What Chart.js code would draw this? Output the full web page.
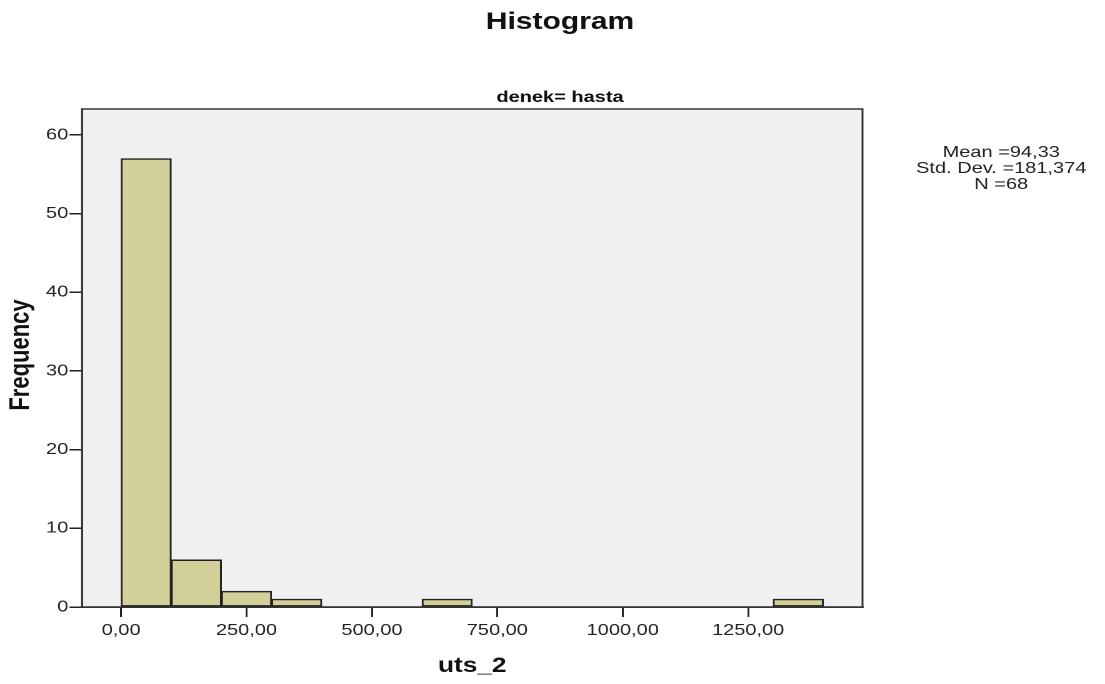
<!DOCTYPE html>
<html>
<head>
<meta charset="utf-8">
<script src="https://cdn.jsdelivr.net/npm/chart.js@4/dist/chart.umd.min.js"></script>
<style>
  html, body { margin: 0; padding: 0; background: #fff; overflow: hidden; }
  /* the SPSS picture is stretched sideways, so draw narrow and stretch */
  #wrap { position: absolute; left: 0; top: 0; width: 884px; height: 684px;
          transform: scaleX(1.25); transform-origin: 0 0; }
</style>
</head>
<body>
<div id="wrap"><canvas id="chart"></canvas></div>
<script>
// bins of uts_2 (width 100) and their frequencies
const binStarts = [0, 100, 200, 300, 400, 500, 600, 700, 800, 900, 1000, 1100, 1200, 1300];
const binWidth = 100;
const counts = [57, 6, 2, 1, 0, 0, 1, 0, 0, 0, 0, 0, 0, 1];
const xTicks = [0, 250, 500, 750, 1000, 1250];
const yTicks = [0, 10, 20, 30, 40, 50, 60];
const statLines = ["Mean =94,33", "Std. Dev. =181,374", "N =68"];

const FONT = '"Liberation Sans", Arial, sans-serif';
const INK = '#222';

const points = binStarts.map((b, i) => ({ x: b + binWidth / 2, y: counts[i] }));

const decor = {
    id: 'decor',
    beforeDraw(chart) {
        const a = chart.chartArea, ctx = chart.ctx;
        ctx.save();
        ctx.fillStyle = '#f0f0f0';
        ctx.fillRect(a.left, a.top, a.right - a.left, a.bottom - a.top);
        ctx.restore();
    },
    afterDraw(chart) {
        const a = chart.chartArea, ctx = chart.ctx;
        ctx.save();
        ctx.strokeStyle = '#333';
        ctx.lineWidth = 1.5;
        ctx.strokeRect(a.left, a.top, a.right - a.left, a.bottom - a.top);

        ctx.fillStyle = '#111';
        ctx.textAlign = 'center';
        ctx.textBaseline = 'alphabetic';
        ctx.font = 'bold 24px ' + FONT;
        ctx.fillText('Histogram', 448, 29);
        ctx.font = 'bold 16px ' + FONT;
        ctx.fillText('denek= hasta', 448, 102);
        ctx.font = 'bold 21px ' + FONT;
        ctx.fillText('uts_2', (a.left + a.right) / 2, 672);

        ctx.save();
        ctx.translate(17, 355);
        ctx.rotate(-Math.PI / 2);
        ctx.textBaseline = 'middle';
        ctx.font = 'bold 22px ' + FONT;
        ctx.fillText('Frequency', 0, 0);
        ctx.restore();

        ctx.fillStyle = INK;
        ctx.font = '16px ' + FONT;
        statLines.forEach((t, i) => ctx.fillText(t, 801, 157 + i * 16));
        ctx.restore();
    }
};

new Chart(document.getElementById('chart'), {
    type: 'bar',
    data: {
        datasets: [{
            data: points,
            backgroundColor: '#d3cf98',
            borderColor: '#222',
            borderWidth: c => (c.raw && c.raw.y > 0 ? 1.5 : 0),
            borderSkipped: false,
            barPercentage: 1,
            categoryPercentage: 1
        }]
    },
    options: {
        responsive: true,
        maintainAspectRatio: false,
        devicePixelRatio: 2,
        animation: false,
        layout: { padding: { left: 0, top: 109, right: 194, bottom: 0 } },
        plugins: { legend: { display: false }, tooltip: { enabled: false }, title: { display: false } },
        scales: {
            x: {
                type: 'linear',
                min: -78,
                max: 1478,
                offset: false,
                afterFit: s => { s.height = 77; },
                afterBuildTicks: s => { s.ticks = xTicks.map(v => ({ value: v })); },
                ticks: {
                    stepSize: 250,
                    includeBounds: false,
                    autoSkip: false,
                    maxRotation: 0,
                    padding: 4,
                    color: INK,
                    font: { family: FONT, size: 16 },
                    callback: v => v.toFixed(2).replace('.', ',')
                },
                grid: { offset: false, drawOnChartArea: false, drawTicks: true, tickLength: 10, color: INK, lineWidth: 1.5 },
                border: { color: '#333', width: 1.5 }
            },
            y: {
                min: 0,
                max: 63.3,
                afterFit: s => { s.width = 65.6; },
                afterBuildTicks: s => { s.ticks = yTicks.map(v => ({ value: v })); },
                ticks: {
                    stepSize: 10,
                    includeBounds: false,
                    padding: 1,
                    color: INK,
                    font: { family: FONT, size: 16 }
                },
                grid: { drawOnChartArea: false, drawTicks: true, tickLength: 10, color: INK, lineWidth: 1.5 },
                border: { color: '#333', width: 1.5 }
            }
        }
    },
    plugins: [decor]
});
</script>
</body>
</html>
